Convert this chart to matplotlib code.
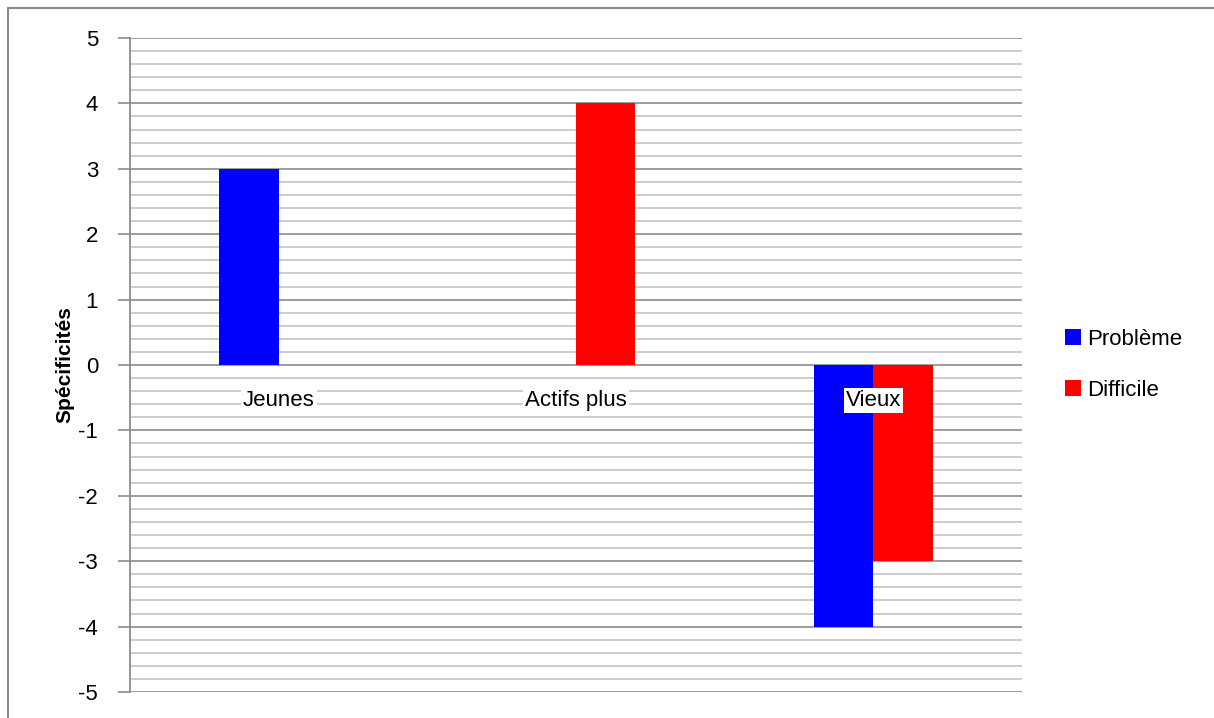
import numpy as np
import matplotlib.pyplot as plt
from matplotlib.patches import Rectangle
from matplotlib.ticker import MultipleLocator

categories = ['Jeunes', 'Actifs plus', 'Vieux']
probleme = [3, 0, -4]
difficile = [0, 4, -3]
yticks = [5, 4, 3, 2, 1, 0, -1, -2, -3, -4, -5]

plt.rcParams['font.family'] = ['Liberation Sans', 'DejaVu Sans']

fig = plt.figure(figsize=(12.14, 7.18), dpi=100)
ax = fig.add_axes([130 / 1214, 1 - 692 / 718, 892 / 1214, 654 / 718])

x = np.arange(len(categories))
w = 0.2
ax.bar(x - w / 2, probleme, w, color='#0000ff', label='Problème', zorder=3)
ax.bar(x + w / 2, difficile, w, color='#ff0000', label='Difficile', zorder=3)

ax.set_xlim(-0.5, 2.5)
ax.set_ylim(-5, 5)
ax.set_yticks(yticks)
ax.set_yticklabels([str(v) for v in yticks])
ax.yaxis.set_minor_locator(MultipleLocator(0.2))
ax.grid(which='major', axis='y', color='#8c8c8c', lw=1.2, zorder=1)
ax.grid(which='minor', axis='y', color='#c4c4c4', lw=1.2, zorder=1)
ax.set_xticks([])
ax.tick_params(axis='y', which='major', length=9, width=1.2, color='#8c8c8c',
               labelsize=16, pad=14)
ax.tick_params(axis='y', which='minor', length=0)
for s in ['top', 'right', 'bottom']:
    ax.spines[s].set_visible(False)
ax.spines['left'].set_color('#8c8c8c')
ax.spines['left'].set_linewidth(1.3)

for i, c in enumerate(categories):
    ax.text(i, -0.55, c, ha='center', va='center', fontsize=16, zorder=5,
            bbox=dict(facecolor='white', edgecolor='none', pad=1.5))

ax.set_ylabel('Spécificités', fontsize=15, fontweight='bold', labelpad=3)

fig.legend(loc='center left', bbox_to_anchor=(1045 / 1214, 1 - 365 / 718),
           frameon=False, fontsize=16, handlelength=0.7, handleheight=0.7,
           handletextpad=0.3, labelspacing=1.35)

fig.patches.append(Rectangle((8 / 1214, -0.1), 1.2, 1.1 - 8 / 718,
                             transform=fig.transFigure, fill=False,
                             edgecolor='#8c8c8c', lw=1.5))

fig.savefig('out.png', dpi=100)
